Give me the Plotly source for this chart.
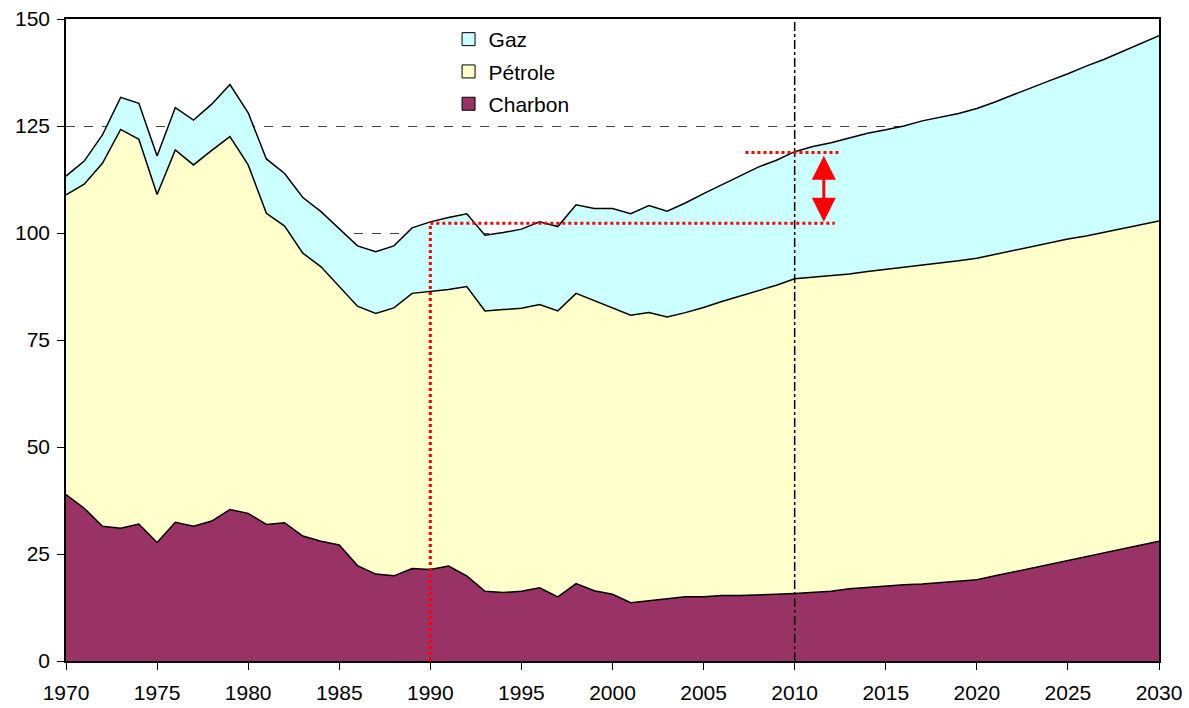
import plotly.graph_objs as go

years = list(range(1970, 2031))

charbon = [38.9, 35.7, 31.5, 31.0, 32.0, 27.7, 32.4, 31.5, 32.7, 35.4,
           34.5, 31.9, 32.3, 29.2, 28.0, 27.1, 22.3, 20.3, 19.9, 21.6,
           21.4, 22.2, 19.9, 16.3, 16.0, 16.3, 17.1, 15.0, 18.1, 16.4,
           15.6, 13.6, 14.1, 14.6, 15.0, 15.0, 15.3, 15.3, 15.4, 15.6,
           15.8, 16.0, 16.3, 16.9, 17.2, 17.6, 17.8, 18.0, 18.3, 18.6,
           19.0, 19.9, 20.8, 21.7, 22.5, 23.4, 24.3, 25.2, 26.1, 27.0,
           28.0]

petrole = [70.0, 75.7, 84.8, 93.2, 89.9, 81.3, 87.0, 84.4, 86.6, 87.1,
           81.4, 72.7, 69.3, 66.1, 64.1, 60.4, 60.6, 60.9, 62.6, 64.3,
           64.9, 64.6, 67.6, 65.5, 66.1, 66.1, 66.2, 66.8, 67.8, 67.8,
           67.0, 67.2, 67.3, 65.8, 66.4, 67.6, 68.7, 70.0, 71.1, 72.2,
           73.5, 73.7, 73.8, 73.5, 73.8, 73.9, 74.1, 74.4, 74.7, 74.9,
           75.1, 75.1, 75.2, 75.1, 75.2, 75.2, 75.0, 75.0, 75.0, 74.9,
           74.8]

gaz = [4.4, 5.4, 6.6, 7.5, 8.4, 9.0, 9.9, 10.5, 10.8, 12.2,
       12.2, 12.7, 12.3, 13.0, 12.9, 13.6, 14.1, 14.4, 14.5, 15.3,
       16.3, 16.8, 17.0, 17.7, 18.0, 18.5, 19.3, 19.7, 20.7, 21.5,
       23.1, 23.7, 25.0, 24.7, 25.6, 26.6, 27.3, 28.1, 28.9, 29.2,
       29.7, 30.5, 31.0, 31.8, 32.3, 32.6, 33.1, 33.8, 34.1, 34.4,
       35.0, 35.6, 36.3, 37.2, 37.9, 38.6, 39.7, 40.4, 41.3, 42.3,
       43.3]

# reference levels for the red markers
ref_year = 1990
ref_level = 102.3
target_year = 2010
target_level = 118.8

font = "Liberation Sans, Arial, sans-serif"

fig = go.Figure()
series = [("Charbon", charbon, "#993366"),
          ("Pétrole", petrole, "#FFFFCC"),
          ("Gaz", gaz, "#CCFFFF")]
for name, vals, col in series:
    fig.add_trace(go.Scatter(
        x=years, y=vals, name=name, mode="lines",
        stackgroup="energie", fillcolor=col,
        line=dict(color="black", width=1.5),
        showlegend=False,
    ))
# square legend keys like the excel original, top series first
for name, vals, col in reversed(series):
    fig.add_trace(go.Scatter(
        x=[None], y=[None], name=name, mode="markers",
        marker=dict(symbol="square", size=13, color=col,
                    line=dict(color="black", width=1)),
        legendgroup=name,
    ))

red_dot = dict(color="red", width=3, dash="dot")
# vertical 2010 marker
fig.add_shape(type="line", x0=target_year, x1=target_year, y0=0, y1=150,
              line=dict(color="black", width=1.5, dash="dashdot"), layer="above")
# 1990 reference
fig.add_shape(type="line", x0=ref_year, x1=ref_year, y0=0, y1=ref_level,
              line=red_dot, layer="above")
fig.add_shape(type="line", x0=ref_year, x1=2012.2, y0=ref_level, y1=ref_level,
              line=red_dot, layer="above")
fig.add_shape(type="line", x0=2007.3, x1=2012.4, y0=target_level, y1=target_level,
              line=red_dot, layer="above")
# double arrow
fig.add_annotation(x=2011.6, y=ref_level + 0.3, ax=2011.6, ay=target_level - 0.4,
                   xref="x", yref="y", axref="x", ayref="y", text="",
                   showarrow=True, arrowside="end+start", arrowhead=2,
                   arrowsize=1.6, arrowwidth=3, arrowcolor="red")

fig.update_layout(
    width=1189, height=708,
    margin=dict(l=66, r=30, t=19, b=47),
    paper_bgcolor="white", plot_bgcolor="white",
    font=dict(family=font, size=21, color="black"),
    showlegend=True,
    legend=dict(x=0.35, y=1.0, xanchor="left", yanchor="top",
                traceorder="grouped", bgcolor="rgba(0,0,0,0)",
                tracegroupgap=2, font=dict(size=21)),
)
fig.update_xaxes(range=[1970, 2030], tickvals=list(range(1970, 2031, 5)),
                 tickfont=dict(size=21), automargin=False, ticklabelstandoff=5,
                 showline=True, linecolor="black", linewidth=1.5, mirror=True,
                 ticks="outside", ticklen=7, tickcolor="black",
                 showgrid=False, zeroline=False)
fig.update_yaxes(range=[0, 150], tickvals=[0, 25, 50, 75, 100, 125, 150],
                 tickfont=dict(size=21), automargin=False, ticklabelstandoff=3,
                 showline=True, linecolor="black", linewidth=1.5, mirror=True,
                 ticks="outside", ticklen=7, tickcolor="black",
                 showgrid=True, gridcolor="#444444", griddash="dash", gridwidth=1,
                 zeroline=False)

# drop the default page margin so the figure sits at the window origin
fig.write_html("out.html", config={"displayModeBar": False},
               post_script="document.body.style.margin='0';")
